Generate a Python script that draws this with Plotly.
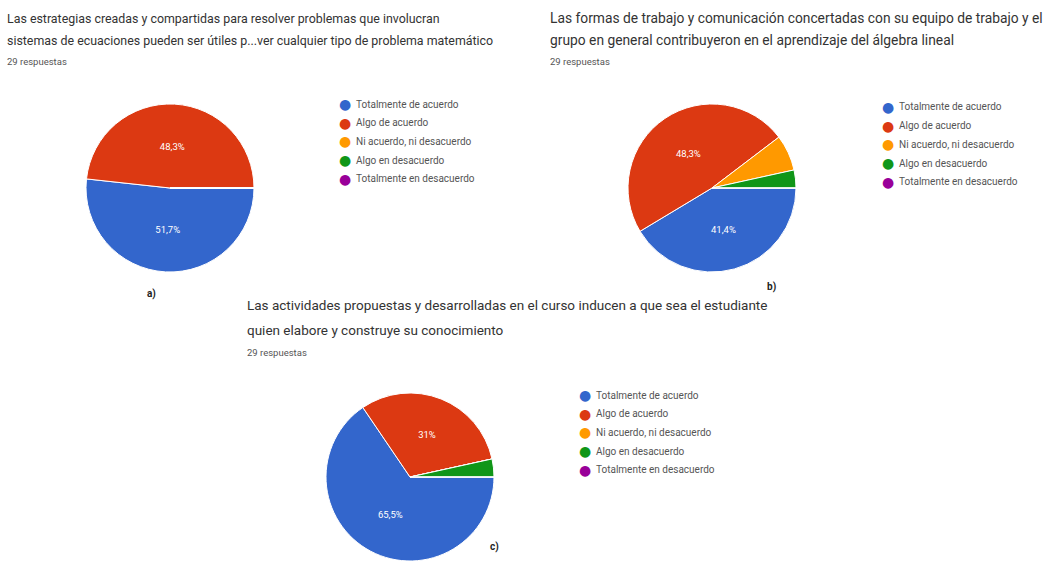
import plotly.graph_objects as go

W, H = 1052, 565

categories = ["Totalmente de acuerdo", "Algo de acuerdo", "Ni acuerdo, ni desacuerdo",
              "Algo en desacuerdo", "Totalmente en desacuerdo"]
colors = ["#3366CC", "#DC3912", "#FF9900", "#109618", "#990099"]

values_a = [15, 14, 0, 0, 0]
values_b = [12, 14, 2, 1, 0]
values_c = [19, 9, 0, 1, 0]

title_a = ["Las estrategias creadas y compartidas para resolver problemas que involucran",
           "sistemas de ecuaciones pueden ser útiles p...ver cualquier tipo de problema matemático"]
title_b = ["Las formas de trabajo y comunicación concertadas con su equipo de trabajo y el",
           "grupo en general contribuyeron en el aprendizaje del álgebra lineal"]
title_c = ["Las actividades propuestas y desarrolladas en el curso inducen a que sea el estudiante",
           "quien elabore y construye su conocimiento"]
respuestas = "29 respuestas"
panel_labels = ["a)", "b)", "c)"]

FONT = "Roboto, Arial, sans-serif"


def px(x):
    return x / W


def py(y):
    return 1 - y / H


def pct_text(vals):
    tot = sum(vals)
    out = []
    for v in vals:
        p = 100 * v / tot
        if p < 10:
            out.append("")
        else:
            s = f"{p:.1f}".replace(".", ",")
            if s.endswith(",0"):
                s = s[:-2]
            out.append(s + "%")
    return out


fig = go.Figure()

pies = [
    (values_a, 170, 188),
    (values_b, 712, 188),
    (values_c, 410, 477),
]
R = 84
for vals, cx, cy in pies:
    fig.add_trace(go.Pie(
        labels=categories, values=vals, sort=False, direction="clockwise", rotation=90,
        marker=dict(colors=colors, line=dict(color="white", width=1)),
        text=pct_text(vals), textinfo="text", textposition="inside",
        insidetextorientation="horizontal",
        textfont=dict(color="white", size=9.5, family=FONT),
        domain=dict(x=[px(cx - R), px(cx + R)], y=[py(cy + R), py(cy - R)]),
        showlegend=False, hoverinfo="label+value+percent",
    ))

ann = []
# titles
titles = [(title_a, 5, [18, 40], 61, 12.4),
          (title_b, 548, [18, 40], 61, 13.8),
          (title_c, 245, [305, 330], 352, 13.5)]
for lines, x, ys, ry, fs in titles:
    for t, y in zip(lines, ys):
        ann.append(dict(x=px(x), y=py(y), text=t, showarrow=False, xanchor="left", yanchor="middle",
                        font=dict(size=fs, color="#333", family=FONT)))
    ann.append(dict(x=px(x), y=py(ry), text=respuestas, showarrow=False, xanchor="left", yanchor="middle",
                    font=dict(size=9.5, color="#555", family=FONT)))

# legends
legends = [(345, 104), (888, 107), (585, 395)]
for lx, ly in legends:
    for i, (cat, col) in enumerate(zip(categories, colors)):
        y = ly + i * 18.7
        ann.append(dict(x=px(lx), y=py(y), text="●", showarrow=False, xanchor="center", yanchor="middle",
                        font=dict(size=14, color=col, family="DejaVu Sans")))
        ann.append(dict(x=px(lx + 9), y=py(y), text=cat, showarrow=False, xanchor="left", yanchor="middle",
                        font=dict(size=10, color="#555", family=FONT)))

# panel labels
for lab, (x, y) in zip(panel_labels, [(152, 294), (772, 287), (494, 547)]):
    ann.append(dict(x=px(x), y=py(y), text=f"<b>{lab}</b>", showarrow=False, xanchor="center",
                    yanchor="middle", font=dict(size=10, color="#222", family=FONT)))

fig.update_layout(
    width=W, height=H, margin=dict(l=0, r=0, t=0, b=0),
    paper_bgcolor="white", plot_bgcolor="white",
    annotations=ann, separators=",.",
)

fig.write_html("out.html")
